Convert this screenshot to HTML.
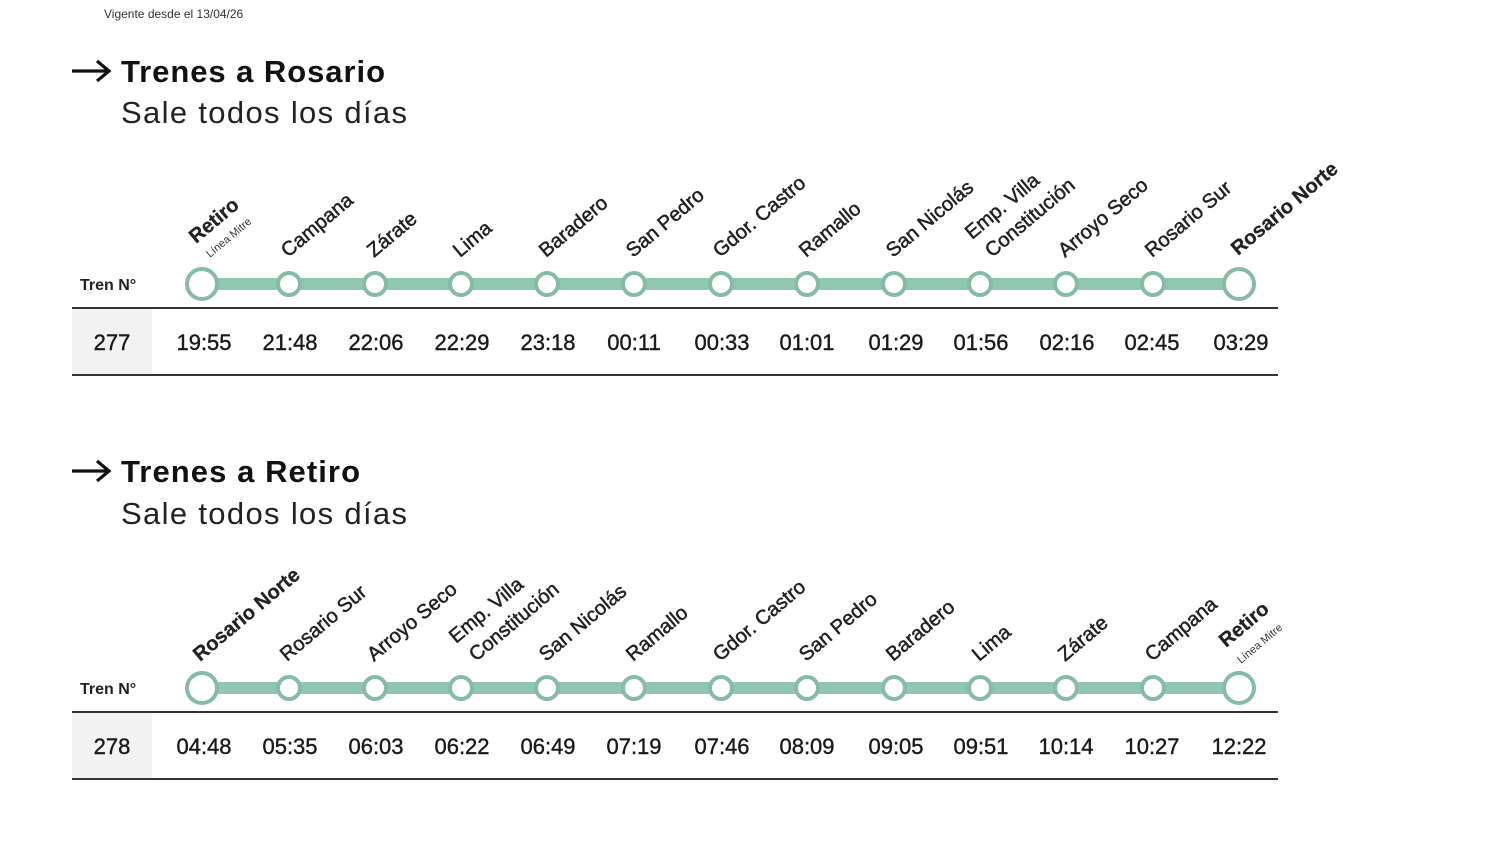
<!DOCTYPE html>
<html><head><meta charset="utf-8"><style>
html,body{margin:0;padding:0;background:#fff;}
svg{display:block;font-family:"Liberation Sans",sans-serif;}
.st{font-size:20px;fill:#222;stroke:#222;stroke-width:0.5;}
.b{font-weight:bold;stroke-width:0.3;}
.sub{font-size:11px;fill:#333;}
.t{font-size:22px;fill:#1a1a1a;text-anchor:middle;stroke:#1a1a1a;stroke-width:0.4;}
</style></head><body>
<svg width="1500" height="844" viewBox="0 0 1500 844">
<rect width="1500" height="844" fill="#fff"/>
<text x="104" y="18" font-size="12" fill="#333">Vigente desde el 13/04/26</text>

<path d="M72 71 H108 M97 61 L109 71 L97 81" stroke="#111" stroke-width="3.2" fill="none"/>
<text x="121" y="82" font-size="31" font-weight="bold" fill="#111" textLength="264">Trenes a Rosario</text>
<text x="121" y="123" font-size="31" fill="#222" textLength="286">Sale todos los días</text>

<g>
<g transform="translate(196,244) rotate(-40)"><text class="st b">Retiro</text></g>
<g transform="translate(210,258) rotate(-40)"><text class="sub">Línea Mitre</text></g>
<g transform="translate(288,258) rotate(-40)"><text class="st">Campana</text></g>
<g transform="translate(374,258) rotate(-40)"><text class="st">Zárate</text></g>
<g transform="translate(460,258) rotate(-40)"><text class="st">Lima</text></g>
<g transform="translate(546,258) rotate(-40)"><text class="st">Baradero</text></g>
<g transform="translate(633,258) rotate(-40)"><text class="st">San Pedro</text></g>
<g transform="translate(720,258) rotate(-40)"><text class="st">Gdor. Castro</text></g>
<g transform="translate(806,258) rotate(-40)"><text class="st">Ramallo</text></g>
<g transform="translate(893,258) rotate(-40)"><text class="st">San Nicolás</text></g>
<g transform="translate(972,240) rotate(-40)"><text class="st">Emp. Villa</text></g>
<g transform="translate(992,258) rotate(-40)"><text class="st">Constitución</text></g>
<g transform="translate(1065,258) rotate(-40)"><text class="st">Arroyo Seco</text></g>
<g transform="translate(1152,258) rotate(-40)"><text class="st">Rosario Sur</text></g>
<g transform="translate(1238,256) rotate(-40)"><text class="st b">Rosario Norte</text></g>
</g>
<text x="80" y="290" font-size="16" font-weight="bold" fill="#222">Tren N°</text>
<rect x="202" y="278" width="1037" height="12" fill="#8fc7b0"/>
<g fill="#fff" stroke="#86bba5" stroke-width="4">
<circle cx="202" cy="284" r="15"/>
<circle cx="289" cy="284" r="11"/><circle cx="375" cy="284" r="11"/><circle cx="461" cy="284" r="11"/>
<circle cx="547" cy="284" r="11"/><circle cx="634" cy="284" r="11"/><circle cx="721" cy="284" r="11"/>
<circle cx="807" cy="284" r="11"/><circle cx="894" cy="284" r="11"/><circle cx="980" cy="284" r="11"/>
<circle cx="1066" cy="284" r="11"/><circle cx="1153" cy="284" r="11"/>
<circle cx="1239" cy="284" r="15"/>
</g>
<rect x="72" y="309" width="80" height="66" fill="#f2f2f2"/>
<rect x="72" y="307" width="1206" height="2" fill="#333"/>
<rect x="72" y="374" width="1206" height="2" fill="#333"/>
<g>
<text x="112" y="350" class="t">277</text>
<text x="204" y="350" class="t">19:55</text><text x="290" y="350" class="t">21:48</text>
<text x="376" y="350" class="t">22:06</text><text x="462" y="350" class="t">22:29</text>
<text x="548" y="350" class="t">23:18</text><text x="634" y="350" class="t">00:11</text>
<text x="722" y="350" class="t">00:33</text><text x="807" y="350" class="t">01:01</text>
<text x="896" y="350" class="t">01:29</text><text x="981" y="350" class="t">01:56</text>
<text x="1067" y="350" class="t">02:16</text><text x="1152" y="350" class="t">02:45</text>
<text x="1241" y="350" class="t">03:29</text>
</g>

<path d="M72 471 H108 M97 461 L109 471 L97 481" stroke="#111" stroke-width="3.2" fill="none"/>
<text x="121" y="482" font-size="31" font-weight="bold" fill="#111" textLength="239">Trenes a Retiro</text>
<text x="121" y="524" font-size="31" fill="#222" textLength="286">Sale todos los días</text>

<g>
<g transform="translate(200,662) rotate(-40)"><text class="st b">Rosario Norte</text></g>
<g transform="translate(287,662) rotate(-40)"><text class="st">Rosario Sur</text></g>
<g transform="translate(374,662) rotate(-40)"><text class="st">Arroyo Seco</text></g>
<g transform="translate(456,644) rotate(-40)"><text class="st">Emp. Villa</text></g>
<g transform="translate(476,662) rotate(-40)"><text class="st">Constitución</text></g>
<g transform="translate(546,662) rotate(-40)"><text class="st">San Nicolás</text></g>
<g transform="translate(633,662) rotate(-40)"><text class="st">Ramallo</text></g>
<g transform="translate(720,662) rotate(-40)"><text class="st">Gdor. Castro</text></g>
<g transform="translate(806,662) rotate(-40)"><text class="st">San Pedro</text></g>
<g transform="translate(893,662) rotate(-40)"><text class="st">Baradero</text></g>
<g transform="translate(979,662) rotate(-40)"><text class="st">Lima</text></g>
<g transform="translate(1065,662) rotate(-40)"><text class="st">Zárate</text></g>
<g transform="translate(1152,662) rotate(-40)"><text class="st">Campana</text></g>
<g transform="translate(1226,648) rotate(-40)"><text class="st b">Retiro</text></g>
<g transform="translate(1241,664) rotate(-40)"><text class="sub">Línea Mitre</text></g>
</g>
<text x="80" y="694" font-size="16" font-weight="bold" fill="#222">Tren N°</text>
<rect x="202" y="682" width="1037" height="12" fill="#8fc7b0"/>
<g fill="#fff" stroke="#86bba5" stroke-width="4">
<circle cx="202" cy="688" r="15"/>
<circle cx="289" cy="688" r="11"/><circle cx="375" cy="688" r="11"/><circle cx="461" cy="688" r="11"/>
<circle cx="547" cy="688" r="11"/><circle cx="634" cy="688" r="11"/><circle cx="721" cy="688" r="11"/>
<circle cx="807" cy="688" r="11"/><circle cx="894" cy="688" r="11"/><circle cx="980" cy="688" r="11"/>
<circle cx="1066" cy="688" r="11"/><circle cx="1153" cy="688" r="11"/>
<circle cx="1239" cy="688" r="15"/>
</g>
<rect x="72" y="713" width="80" height="66" fill="#f2f2f2"/>
<rect x="72" y="711" width="1206" height="2" fill="#333"/>
<rect x="72" y="778" width="1206" height="2" fill="#333"/>
<g>
<text x="112" y="754" class="t">278</text>
<text x="204" y="754" class="t">04:48</text><text x="290" y="754" class="t">05:35</text>
<text x="376" y="754" class="t">06:03</text><text x="462" y="754" class="t">06:22</text>
<text x="548" y="754" class="t">06:49</text><text x="634" y="754" class="t">07:19</text>
<text x="722" y="754" class="t">07:46</text><text x="807" y="754" class="t">08:09</text>
<text x="896" y="754" class="t">09:05</text><text x="981" y="754" class="t">09:51</text>
<text x="1066" y="754" class="t">10:14</text><text x="1152" y="754" class="t">10:27</text>
<text x="1239" y="754" class="t">12:22</text>
</g>
</svg>
</body></html>
